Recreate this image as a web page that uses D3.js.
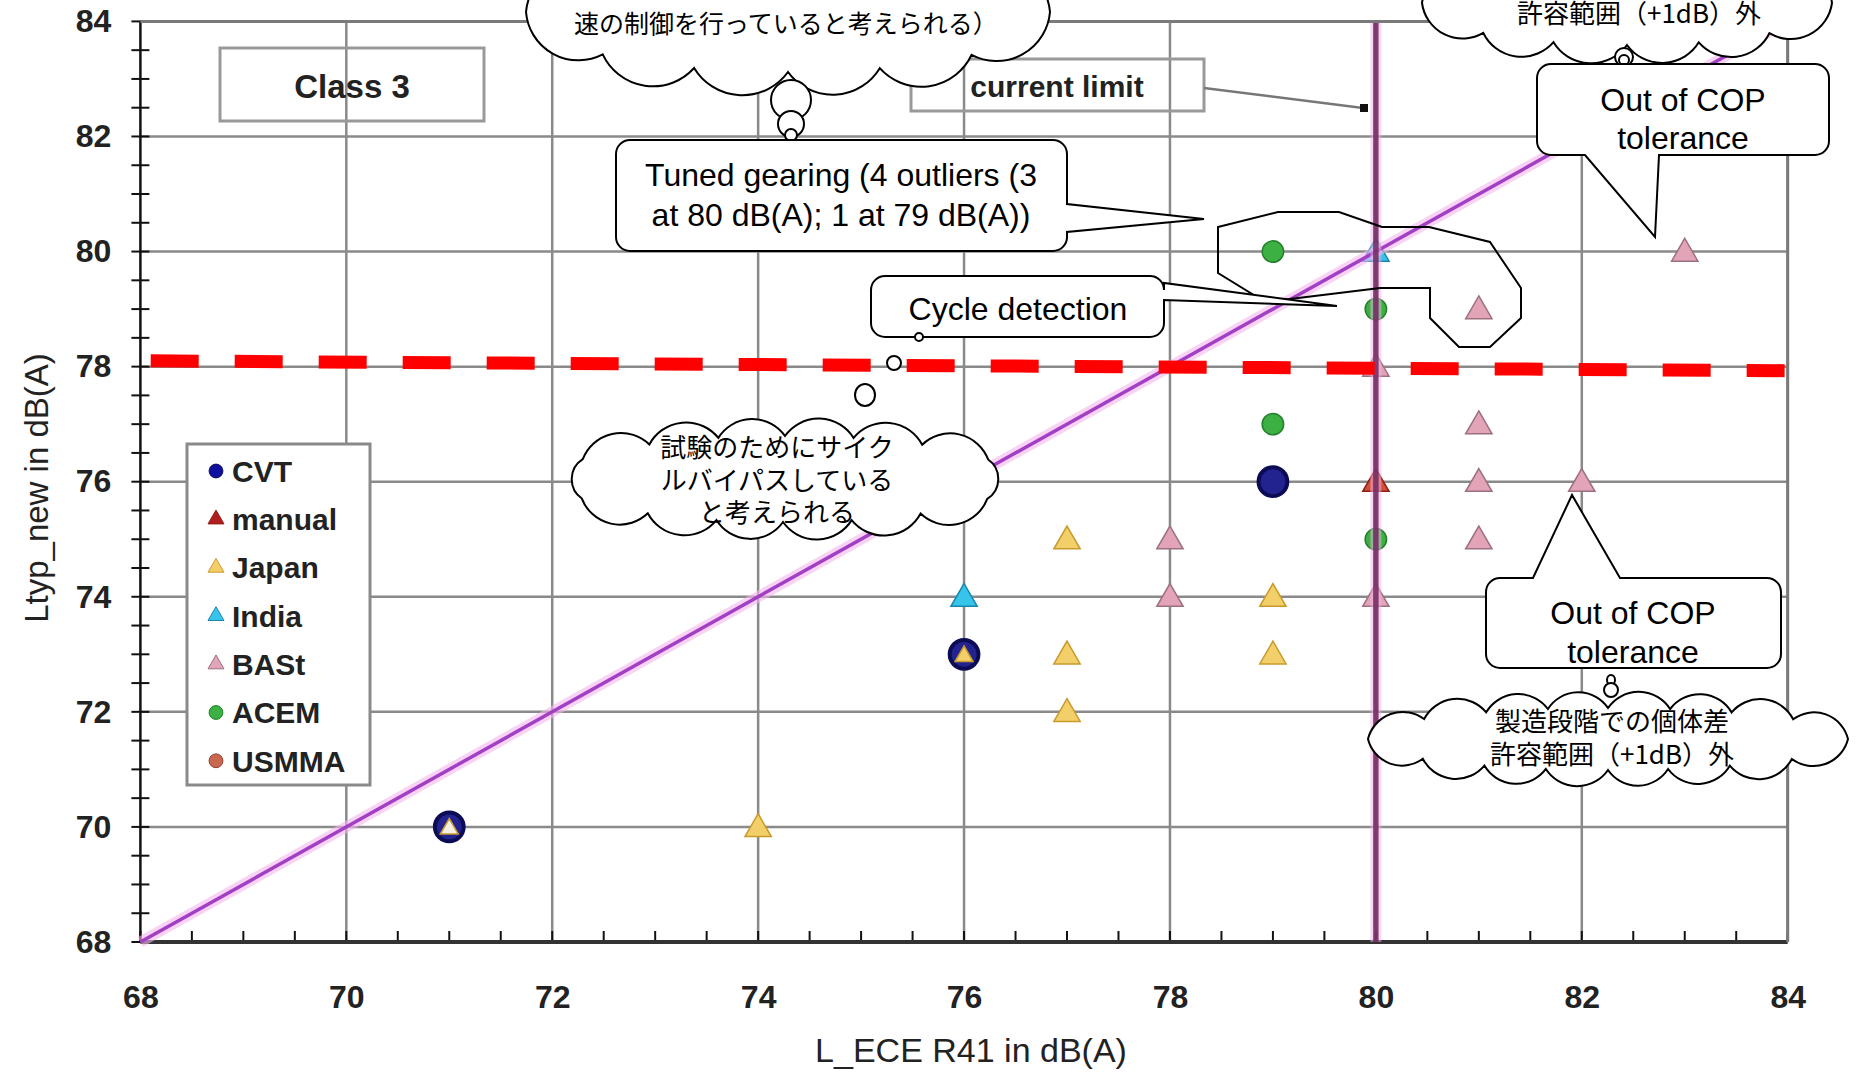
<!DOCTYPE html>
<html>
<head>
<meta charset="utf-8">
<script src="https://cdnjs.cloudflare.com/ajax/libs/d3/7.8.5/d3.min.js"></script>
<style>
  body { margin: 0; background: #fff; }
  svg { display: block; }
  .lat { font-family: "Liberation Sans", Arial, sans-serif; }
  .jp { font-family: "Noto Sans CJK JP", sans-serif; }
</style>
</head>
<body>
<div id="chart"></div>
<script>
// data
var xTicks = [68, 70, 72, 74, 76, 78, 80, 82, 84];
var yTicks = [68, 70, 72, 74, 76, 78, 80, 82, 84];
var categories = ["CVT", "manual", "Japan", "India", "BASt", "ACEM", "USMMA"];

var cvtPoints = [[71, 70], [76, 73], [79, 76]];
var manualPoints = [[80, 76]];
var japanPoints = [[71, 70], [74, 70], [76, 73], [77, 75], [77, 73], [77, 72], [79, 74], [79, 73]];
var indiaPoints = [[76, 74], [80, 80]];
var bastPoints = [[78, 75], [78, 74], [80, 78], [80, 74], [81, 79], [81, 77], [81, 76], [81, 75], [82, 76], [83, 80]];
var acemPoints = [[79, 80], [79, 77], [80, 79], [80, 75]];
var usmmaPoints = [];

var limitLine = [[68.1, 78.1], [83.97, 77.93]];   // red dashed
var equalLine = [[68, 68], [84, 84]];             // L_new = L_ECE
var currentLimitX = 80;

var styles = {
  CVT:    {shape: "circle",   fill: "#23238f", stroke: "#0c0c55", size: 650},
  manual: {shape: "triangle", fill: "#d0503c", stroke: "#901c14", size: 300},
  Japan:  {shape: "triangle", fill: "#f3cf6a", stroke: "#c99a2a", size: 300},
  India:  {shape: "triangle", fill: "#36c4ea", stroke: "#1a86b0", size: 300},
  BASt:   {shape: "triangle", fill: "#e2a4b6", stroke: "#9c7080", size: 300},
  ACEM:   {shape: "circle",   fill: "#3cb043", stroke: "#22802a", size: 360},
  USMMA:  {shape: "circle",   fill: "#c8684e", stroke: "#8c3c2a", size: 360}
};
var series = {CVT: cvtPoints, manual: manualPoints, Japan: japanPoints, India: indiaPoints,
              BASt: bastPoints, ACEM: acemPoints, USMMA: usmmaPoints};

var width = 1865, height = 1073;
var svg = d3.select("#chart").append("svg")
  .attr("width", width).attr("height", height);

var x = d3.scaleLinear().domain([68, 84]).range([140.4, 1787.7]);
var y = d3.scaleLinear().domain([68, 84]).range([942, 21.4]);

// grid
svg.append("g").selectAll("line").data(xTicks.slice(1)).enter().append("line")
  .attr("x1", function(d) { return x(d); }).attr("x2", function(d) { return x(d); })
  .attr("y1", y(84)).attr("y2", y(68))
  .style("stroke", "#8a8a8a").style("stroke-width", 2.5);
svg.append("g").selectAll("line").data(yTicks.slice(1)).enter().append("line")
  .attr("x1", x(68)).attr("x2", x(84))
  .attr("y1", function(d) { return y(d); }).attr("y2", function(d) { return y(d); })
  .style("stroke", "#8a8a8a").style("stroke-width", 2.5);

// minor ticks
var minor = d3.range(68, 84.01, 0.5);
svg.append("g").selectAll("line").data(minor).enter().append("line")
  .attr("x1", x(68) - 9).attr("x2", x(68) + 9)
  .attr("y1", function(d) { return y(d); }).attr("y2", function(d) { return y(d); })
  .style("stroke", "#111").style("stroke-width", 2);
svg.append("g").selectAll("line").data(minor).enter().append("line")
  .attr("x1", function(d) { return x(d); }).attr("x2", function(d) { return x(d); })
  .attr("y1", y(68)).attr("y2", y(68) - 11)
  .style("stroke", "#111").style("stroke-width", 2);

// axes lines
svg.append("line").attr("x1", x(68)).attr("x2", x(68)).attr("y1", y(84)).attr("y2", y(68))
  .style("stroke", "#111").style("stroke-width", 2.5);
svg.append("line").attr("x1", x(68)).attr("x2", x(84)).attr("y1", y(68)).attr("y2", y(68))
  .style("stroke", "#333").style("stroke-width", 4);

// tick labels
var xAxis = svg.append("g").attr("class", "lat")
  .attr("transform", "translate(0," + y(68) + ")")
  .call(d3.axisBottom(x).tickValues(xTicks).tickSize(0).tickPadding(43));
var yAxis = svg.append("g").attr("class", "lat")
  .attr("transform", "translate(" + x(68) + ",0)")
  .call(d3.axisLeft(y).tickValues(yTicks).tickSize(0).tickPadding(29));
[xAxis, yAxis].forEach(function(a) {
  a.select(".domain").remove();
  a.selectAll("text").style("font-size", "32px").style("font-weight", "bold")
    .style("fill", "#222").style("font-family", "'Liberation Sans', Arial, sans-serif");
});

svg.append("text").attr("class", "lat")
  .attr("x", 971).attr("y", 1062).attr("text-anchor", "middle")
  .style("font-size", "34px").style("fill", "#222")
  .text("L_ECE R41 in dB(A)");
svg.append("text").attr("class", "lat")
  .attr("transform", "translate(48,488) rotate(-90)").attr("text-anchor", "middle")
  .style("font-size", "33px").style("fill", "#222")
  .text("Ltyp_new in dB(A)");

// points
["BASt", "India", "ACEM", "CVT", "Japan", "manual", "USMMA"].forEach(function(name) {
  var st = styles[name];
  svg.append("g").selectAll("path").data(series[name]).enter().append("path")
    .attr("d", d3.symbol().type(st.shape == "circle" ? d3.symbolCircle : d3.symbolTriangle)
      .size(function(d) { return (name == "Japan" && (d[0] == 71 || d[0] == 76)) ? 140 : st.size; }))
    .attr("transform", function(d) { return "translate(" + x(d[0]) + "," + (y(d[1]) + (st.shape == "triangle" ? 2 : 0)) + ")"; })
    .style("fill", function(d) { return (name == "Japan" && d[0] == 71) ? "#f4f0e6" : st.fill; })
    .style("stroke", st.stroke).style("stroke-width", name == "CVT" ? 4 : 1.5);
});

// reference lines
var line = d3.line().x(function(d) { return x(d[0]); }).y(function(d) { return y(d[1]); });
svg.append("path").attr("d", line(equalLine))
  .style("stroke", "#f5b6f0").style("stroke-width", 11).style("opacity", 0.6).style("fill", "none");
svg.append("path").attr("d", line(equalLine))
  .style("stroke", "#a33fc4").style("stroke-width", 3.5).style("fill", "none");
svg.append("line").attr("x1", x(currentLimitX)).attr("x2", x(currentLimitX))
  .attr("y1", y(84)).attr("y2", y(68))
  .style("stroke", "#f0b0e6").style("stroke-width", 11).style("opacity", 0.5);
svg.append("line").attr("x1", x(currentLimitX)).attr("x2", x(currentLimitX))
  .attr("y1", y(84)).attr("y2", y(68))
  .style("stroke", "#70285f").style("stroke-width", 5.5).style("opacity", 0.85);
svg.append("path").attr("d", line(limitLine))
  .style("stroke", "#ff0000").style("stroke-width", 13)
  .style("stroke-dasharray", "48,36").style("fill", "none");

// top and right border
svg.append("line").attr("x1", x(68)).attr("x2", x(84)).attr("y1", y(84)).attr("y2", y(84))
  .style("stroke", "#7a7a7a").style("stroke-width", 3);
svg.append("line").attr("x1", x(84)).attr("x2", x(84)).attr("y1", y(84)).attr("y2", y(68))
  .style("stroke", "#7a7a7a").style("stroke-width", 3);

// ---- annotations ----
var ann = svg.append("g");

function cloudPath(cx, cy, rx, ry, n) {
  // sample the ellipse, pick n points spaced by arc length
  var fine = d3.range(0, 721).map(function(i) {
    var t = -Math.PI / 2 + i * Math.PI / 360;
    return [cx + rx * Math.cos(t), cy + ry * Math.sin(t)];
  });
  var acc = [0];
  for (var i = 1; i < fine.length; i++)
    acc.push(acc[i - 1] + Math.hypot(fine[i][0] - fine[i - 1][0], fine[i][1] - fine[i - 1][1]));
  var total = acc[acc.length - 1], pts = [], j = 0;
  for (var k = 0; k < n; k++) {
    var target = total * k / n;
    while (acc[j] < target) j++;
    pts.push(fine[j]);
  }
  var d = "M" + pts[0][0] + "," + pts[0][1];
  for (var k = 0; k < n; k++) {
    var a = pts[k], b = pts[(k + 1) % n];
    var r = Math.hypot(b[0] - a[0], b[1] - a[1]) * 0.6;
    d += "A" + r + "," + r + " 0 0 1 " + b[0] + "," + b[1];
  }
  return d + "Z";
}
function cloud(cx, cy, rx, ry, n) {
  ann.append("path").attr("d", cloudPath(cx, cy, rx, ry, n))
    .style("fill", "#fff").style("stroke", "#000").style("stroke-width", 2);
}
function bubble(cx, cy, rx, ry) {
  ann.append("ellipse").attr("cx", cx).attr("cy", cy).attr("rx", rx).attr("ry", ry)
    .style("fill", "#fff").style("stroke", "#000").style("stroke-width", 2);
}
function textLines(cls, cx, ys, lines, size) {
  lines.forEach(function(t, i) {
    ann.append("text").attr("class", cls).attr("x", cx).attr("y", ys[i])
      .attr("text-anchor", "middle").style("font-size", size + "px").style("fill", "#000").text(t);
  });
}
function calloutPath(x0, y0, w, h, r, side, b1, b2, tip) {
  var d = "M" + (x0 + r) + "," + y0;
  if (side == "top") d += "L" + b1 + "," + y0 + "L" + tip[0] + "," + tip[1] + "L" + b2 + "," + y0;
  d += "L" + (x0 + w - r) + "," + y0 + "A" + r + "," + r + " 0 0 1 " + (x0 + w) + "," + (y0 + r);
  if (side == "right") d += "L" + (x0 + w) + "," + b1 + "L" + tip[0] + "," + tip[1] + "L" + (x0 + w) + "," + b2;
  d += "L" + (x0 + w) + "," + (y0 + h - r) + "A" + r + "," + r + " 0 0 1 " + (x0 + w - r) + "," + (y0 + h);
  if (side == "bottom") d += "L" + b2 + "," + (y0 + h) + "L" + tip[0] + "," + tip[1] + "L" + b1 + "," + (y0 + h);
  d += "L" + (x0 + r) + "," + (y0 + h) + "A" + r + "," + r + " 0 0 1 " + x0 + "," + (y0 + h - r);
  d += "L" + x0 + "," + (y0 + r) + "A" + r + "," + r + " 0 0 1 " + (x0 + r) + "," + y0 + "Z";
  return d;
}
function callout(x0, y0, w, h, side, b1, b2, tip) {
  ann.append("path").attr("d", calloutPath(x0, y0, w, h, 14, side, b1, b2, tip))
    .style("fill", "#fff").style("stroke", "#000").style("stroke-width", 2);
}

// plain boxes
ann.append("rect").attr("x", 220).attr("y", 48).attr("width", 264).attr("height", 73)
  .style("fill", "none").style("stroke", "#999").style("stroke-width", 3);
ann.append("text").attr("class", "lat").attr("x", 352).attr("y", 98).attr("text-anchor", "middle")
  .style("font-size", "33px").style("font-weight", "bold").style("fill", "#222").text("Class 3");
ann.append("rect").attr("x", 911).attr("y", 59).attr("width", 293).attr("height", 52)
  .style("fill", "none").style("stroke", "#999").style("stroke-width", 3);
ann.append("text").attr("class", "lat").attr("x", 1057).attr("y", 97).attr("text-anchor", "middle")
  .style("font-size", "30px").style("font-weight", "bold").style("fill", "#222").text("current limit");
ann.append("line").attr("x1", 1204).attr("y1", 88).attr("x2", 1363).attr("y2", 108)
  .style("stroke", "#777").style("stroke-width", 2.5);
ann.append("rect").attr("x", 1360).attr("y", 104).attr("width", 8).attr("height", 8).style("fill", "#111");

// polygon round the tuned-gearing outliers
var poly = [[1218, 227], [1278, 212], [1339, 212], [1382, 227], [1429, 227], [1490, 242], [1521, 288],
            [1521, 318], [1490, 347], [1459, 347], [1430, 318], [1430, 288], [1380, 288], [1290, 299],
            [1262, 300], [1218, 273]];
ann.append("path").attr("d", "M" + poly.join("L") + "Z")
  .style("fill", "none").style("stroke", "#000").style("stroke-width", 2);

// top cloud (cut by the page edge)
cloud(788, 12, 262, 60, 12);
textLines("jp", 786, [-4, 33], ["（加速度に差があることから、何らかの手段での加", "速の制御を行っていると考えられる）"], 25);
bubble(791, 100, 20, 20);
bubble(791, 124, 13, 13);
bubble(791, 135, 6, 6);

callout(616, 140, 451, 111, "right", 204, 232, [1204, 219]);
textLines("lat", 841, [186, 226], ["Tuned gearing (4 outliers (3", "at 80 dB(A); 1 at 79 dB(A))"], 32);

callout(871, 276, 293, 61, "right", 283, 300, [1337, 306]);
textLines("lat", 1018, [320], ["Cycle detection"], 32);
bubble(919, 337, 4, 4);
bubble(894, 363, 7, 7);
bubble(865, 395, 10, 11);

cloud(785, 479, 228, 43, 14);
textLines("jp", 777, [457, 490, 522], ["試験のためにサイク", "ルバイパスしている", "と考えられる"], 26);

// top right
cloud(1627, 3, 205, 42, 12);
textLines("jp", 1639, [-11, 23], ["製造段階での個体差", "許容範囲（+1dB）外"], 26);
bubble(1624, 57, 9, 9);
bubble(1624, 60, 5, 5);
callout(1537, 64, 292, 91, "bottom", 1585, 1659, [1655, 237]);
textLines("lat", 1683, [111, 149], ["Out of COP", "tolerance"], 32);

// bottom right
callout(1486, 578, 295, 90, "top", 1533, 1620, [1572, 495]);
textLines("lat", 1633, [624, 663], ["Out of COP", "tolerance"], 32);
bubble(1611, 680, 4, 5);
bubble(1611, 690, 7, 7);
cloud(1608, 739, 240, 31, 16);
textLines("jp", 1612, [731, 764], ["製造段階での個体差", "許容範囲（+1dB）外"], 26);

// legend
var legend = svg.append("g").attr("class", "lat");
legend.append("rect").attr("x", 187).attr("y", 444).attr("width", 183).attr("height", 341)
  .style("fill", "#fff").style("stroke", "#8a8a8a").style("stroke-width", 3);
var items = legend.selectAll("g.item").data(categories).enter().append("g")
  .attr("transform", function(d, i) { return "translate(216," + (471 + i * 48.3) + ")"; });
items.append("path")
  .attr("d", function(d) {
    var st = styles[d];
    return d3.symbol().type(st.shape == "circle" ? d3.symbolCircle : d3.symbolTriangle)
      .size(st.shape == "circle" ? 150 : 110)();
  })
  .style("fill", function(d) { return d == "manual" ? "#b01e1e" : (d == "CVT" ? "#1010a0" : styles[d].fill); })
  .style("stroke", function(d) { return styles[d].stroke; }).style("stroke-width", 1);
items.append("text").attr("x", 16).attr("dy", "0.36em")
  .style("font-size", "30px").style("font-weight", "bold").style("fill", "#222")
  .text(function(d) { return d; });
</script>
</body>
</html>
